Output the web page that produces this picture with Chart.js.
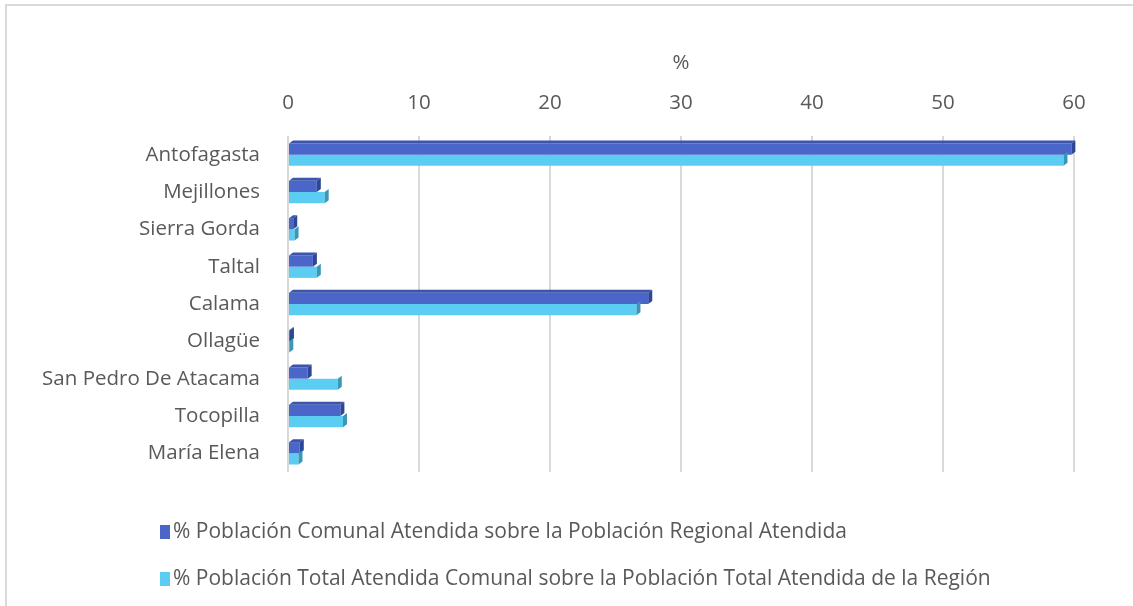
<!DOCTYPE html>
<html>
<head>
<meta charset="utf-8">
<script src="https://cdn.jsdelivr.net/npm/chart.js@4/dist/chart.umd.min.js"></script>
<style>
  html, body { margin: 0; padding: 0; background: #fff; overflow: hidden; }
  body { width: 1133px; height: 606px; position: relative; font-family: 'Open Sans', sans-serif; }
  .frame { position: absolute; left: 5px; top: 4px; width: 1200px; height: 700px; border: 2px solid #d9d9d9; box-sizing: border-box; }
  #chartWrap { position: absolute; left: 0; top: 0; width: 1133px; height: 606px; }
  .lg-item { position: absolute; left: 160px; height: 26px; line-height: 26px; font-size: 21px; color: #595959; white-space: nowrap; }
  .lg-box { display: inline-block; width: 10px; height: 14px; margin-right: 3px; vertical-align: -1px; }
</style>
</head>
<body>
<div class="frame"></div>
<div id="chartWrap"><canvas id="comunaChart" width="1133" height="606"></canvas></div>
<div id="chartLegend"></div>

<script>
// ── 데이터 ──
var comunas = ['Antofagasta', 'Mejillones', 'Sierra Gorda', 'Taltal', 'Calama',
               'Ollagüe', 'San Pedro De Atacama', 'Tocopilla', 'María Elena'];

var pctRegional = [59.8, 2.2, 0.4, 1.9, 27.5, 0.15, 1.5, 4.0, 0.9];
var pctTotal    = [59.2, 2.8, 0.5, 2.2, 26.6, 0.1, 3.8, 4.2, 0.8];

var seriesLabels = [
  '% Población Comunal Atendida sobre la Población Regional Atendida',
  '% Población Total Atendida Comunal sobre la Población Total Atendida de la Región'
];

var xTicks = [0, 10, 20, 30, 40, 50, 60];

// 색상: 앞면 / 옆면 / 윗면
var colorsFront = ['#4a66c8', '#5bcdf3'];
var colorsSide  = ['#2e4696', '#3a97ba'];
var colorsTop   = ['#3b55ad', '#49b3d8'];

// ── 범례 ──
function renderLegend() {
  var el = document.getElementById('chartLegend');
  var tops = [517, 564];
  var html = '';
  for (var i = 0; i < seriesLabels.length; i++) {
    html += '<div class="lg-item" style="top:' + tops[i] + 'px">' +
      '<span class="lg-box" style="background:' + colorsFront[i] + '"></span>' +
      seriesLabels[i] + '</div>';
  }
  el.innerHTML = html;
}

// ── 3D 효과 (옆면/윗면) ──
var barDepth = {
  id: 'barDepth',
  afterDatasetsDraw: function(chart) {
    var ctx = chart.ctx;
    var d = 4, dy = 3;
    chart.data.datasets.forEach(function(ds, di) {
      var meta = chart.getDatasetMeta(di);
      meta.data.forEach(function(bar) {
        var top = bar.y - bar.height / 2;
        var bottom = bar.y + bar.height / 2;
        ctx.save();
        // 윗면
        if (di === 0) {
          ctx.fillStyle = colorsTop[di];
          ctx.beginPath();
          ctx.moveTo(bar.base, top);
          ctx.lineTo(bar.base + d, top - dy);
          ctx.lineTo(bar.x + d, top - dy);
          ctx.lineTo(bar.x, top);
          ctx.closePath();
          ctx.fill();
        }
        // 옆면
        ctx.fillStyle = colorsSide[di];
        ctx.beginPath();
        ctx.moveTo(bar.x, top);
        ctx.lineTo(bar.x + d, top - dy);
        ctx.lineTo(bar.x + d, bottom - dy);
        ctx.lineTo(bar.x, bottom);
        ctx.closePath();
        ctx.fill();
        ctx.restore();
      });
    });
  }
};

// ── 차트 ──
function renderChart() {
  var ctx = document.getElementById('comunaChart').getContext('2d');
  var font = { family: "'Open Sans', sans-serif", size: 20.5 };

  new Chart(ctx, {
    type: 'bar',
    data: {
      labels: comunas,
      datasets: [
        { label: seriesLabels[0], data: pctRegional, backgroundColor: colorsFront[0],
          barPercentage: 1.0, categoryPercentage: 0.6 },
        { label: seriesLabels[1], data: pctTotal, backgroundColor: colorsFront[1],
          barPercentage: 1.0, categoryPercentage: 0.6 }
      ]
    },
    options: {
      responsive: false,
      animation: false,
      indexAxis: 'y',
      layout: { padding: { top: 50, right: 59, bottom: 134, left: 0 } },
      plugins: {
        legend: { display: false },
        tooltip: { enabled: false }
      },
      scales: {
        x: {
          position: 'top',
          min: 0,
          max: 60,
          afterBuildTicks: function(scale) {
            scale.ticks = xTicks.map(function(v) { return { value: v }; });
          },
          grid: { color: '#d9d9d9', lineWidth: 2, drawTicks: false },
          border: { display: false },
          ticks: { font: font, color: '#595959', padding: 21 },
          title: { display: true, text: '%', font: font, color: '#595959',
                   padding: { top: 1, bottom: 0 } },
          afterFit: function(scale) { scale.height = 86; }
        },
        y: {
          grid: { display: false },
          border: { display: false },
          ticks: { font: font, color: '#595959', padding: 20 },
          afterFit: function(scale) { scale.width = 288; }
        }
      }
    },
    plugins: [barDepth]
  });
}

renderLegend();
renderChart();
</script>
</body>
</html>
